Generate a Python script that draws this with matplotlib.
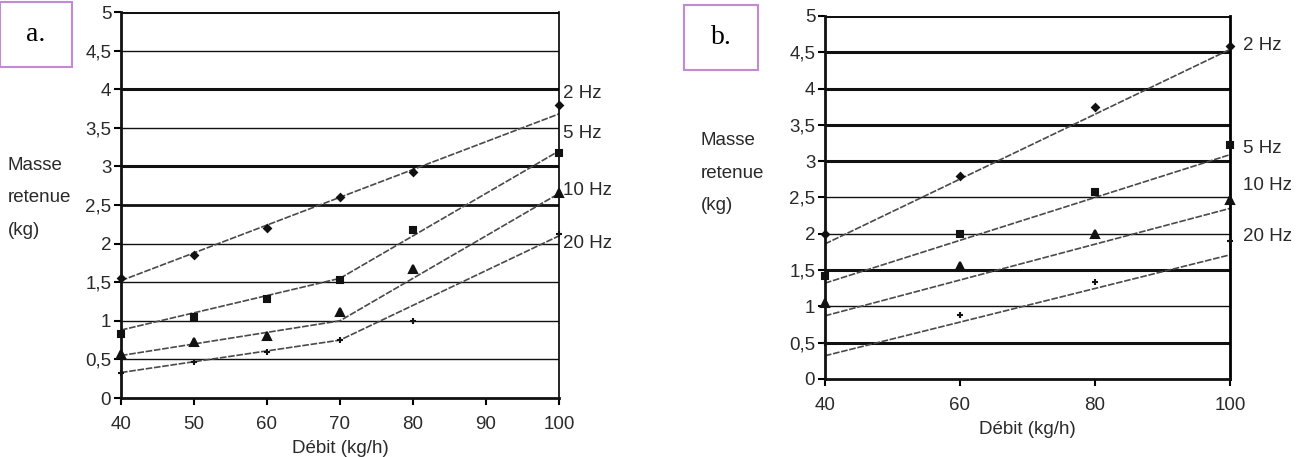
import matplotlib.pyplot as plt
import numpy as np
from matplotlib.patches import Rectangle

plt.rcParams['font.family'] = ['Liberation Sans', 'DejaVu Sans']

# panel a data
debit_a = np.array([40, 50, 60, 70, 80, 100])
mes_a = {
    '2 Hz': [1.55, 1.85, 2.2, 2.6, 2.93, 3.8],
    '5 Hz': [0.83, 1.05, 1.28, 1.53, 2.17, 3.18],
    '10 Hz': [0.57, 0.72, 0.8, 1.12, 1.67, 2.65],
    '20 Hz': [0.33, 0.47, 0.6, 0.75, 1.0, 2.12],
}
# fitted (piecewise) curves, panel a
fit_x_a = [40, 70, 100]
fit_a = {
    '2 Hz': [1.52, 2.6, 3.68],
    '5 Hz': [0.88, 1.55, 3.2],
    '10 Hz': [0.55, 1.0, 2.65],
    '20 Hz': [0.33, 0.75, 2.1],
}

# panel b data
debit_b = np.array([40, 60, 80, 100])
mes_b = {
    '2 Hz': [2.0, 2.8, 3.75, 4.58],
    '5 Hz': [1.42, 2.0, 2.58, 3.22],
    '10 Hz': [1.05, 1.55, 2.0, 2.47],
    '20 Hz': [0.5, 0.88, 1.33, 1.9],
}
fit_x_b = [40, 100]
fit_b = {
    '2 Hz': [1.86, 4.54],
    '5 Hz': [1.32, 3.09],
    '10 Hz': [0.87, 2.35],
    '20 Hz': [0.32, 1.71],
}

markers = {'2 Hz': 'D', '5 Hz': 's', '10 Hz': '^', '20 Hz': '+'}
msizes = {'2 Hz': 3.5, '5 Hz': 5, '10 Hz': 5.5, '20 Hz': 5}

lab_y_a = {'2 Hz': 3.95, '5 Hz': 3.43, '10 Hz': 2.69, '20 Hz': 2.0}
lab_y_b = {'2 Hz': 4.6, '5 Hz': 3.18, '10 Hz': 2.67, '20 Hz': 1.96}

grid_lw_a = [1.0, 1.0, 1.0, 1.0, 2.0, 2.2, 1.0, 2.2, 1.0]
grid_lw_b = [2.2, 1.0, 2.2, 1.0, 1.0, 2.2, 2.2, 2.2, 2.2]
yt = np.arange(0.5, 5.0, 0.5)

FS = 13.5
TXT = '#2a2a2a'

fig = plt.figure(figsize=(13.02, 4.57), dpi=100)
ax1 = fig.add_axes([0.0929, 0.1291, 0.3364, 0.8446])
ax2 = fig.add_axes([0.6336, 0.1707, 0.3111, 0.7943])


def draw(ax, x, mes, fx, fit, grid_lw, lab_y, xticks, lab_dx):
    for y, lw in zip(yt, grid_lw):
        ax.axhline(y, color='#111111', lw=lw, zorder=1)
    ax.axhline(5, color='#111111', lw=2.2, zorder=1)
    for k in mes:
        ax.plot(fx, fit[k], color='#4a4a4a', lw=1.2, ls=(0, (4, 1)), zorder=2)
        ax.plot(x, mes[k], ls='none', marker=markers[k], ms=msizes[k],
                color='#111111', mew=1.5, zorder=3, clip_on=False)
        ax.text(100 + lab_dx, lab_y[k], k, fontsize=FS, color=TXT,
                va='center', ha='left', clip_on=False)
    ax.set_xlim(40, 100)
    ax.set_ylim(0, 5)
    ax.set_xticks(xticks)
    ax.set_yticks(np.arange(0, 5.01, 0.5))
    ax.set_yticklabels(['0', '0,5', '1', '1,5', '2', '2,5', '3', '3,5', '4', '4,5', '5'])
    ax.tick_params(axis='both', direction='out', length=5, width=1.5,
                   labelsize=FS, labelcolor=TXT)
    ax.tick_params(axis='y', pad=2)
    ax.tick_params(axis='x', pad=8)
    ax.spines['top'].set_visible(False)
    for s in ['left', 'bottom']:
        ax.spines[s].set_linewidth(2)
        ax.spines[s].set_color('#111111')


draw(ax1, debit_a, mes_a, fit_x_a, fit_a, grid_lw_a, lab_y_a, [40, 50, 60, 70, 80, 90, 100], 0.5)
ax1.spines['right'].set_linewidth(1.2)
ax1.set_xlabel('Débit (kg/h)', fontsize=FS, color=TXT, labelpad=5)

draw(ax2, debit_b, mes_b, fit_x_b, fit_b, grid_lw_b, lab_y_b, [40, 60, 80, 100], 1.9)
ax2.spines['right'].set_linewidth(2)
ax2.set_xlabel('Débit (kg/h)', fontsize=FS, color=TXT, labelpad=5)

fig.text(0.006, 0.567, 'Masse\nretenue\n(kg)', fontsize=FS, color=TXT,
         va='center', ha='left', linespacing=2.2)
fig.text(0.538, 0.621, 'Masse\nretenue\n(kg)', fontsize=FS, color=TXT,
         va='center', ha='left', linespacing=2.2)

# panel tags
for x0, y0, w, h, t in [(0.0, 0.853, 0.0553, 0.142, 'a.'), (0.5254, 0.847, 0.0568, 0.142, 'b.')]:
    fig.patches.append(Rectangle((x0, y0), w, h, transform=fig.transFigure,
                                 fill=False, edgecolor='#c38ad3', lw=1.5))
    fig.text(x0 + w / 2, y0 + h / 2, t, fontsize=20, family='Liberation Serif',
             ha='center', va='center')

fig.savefig('out.png', dpi=100)
